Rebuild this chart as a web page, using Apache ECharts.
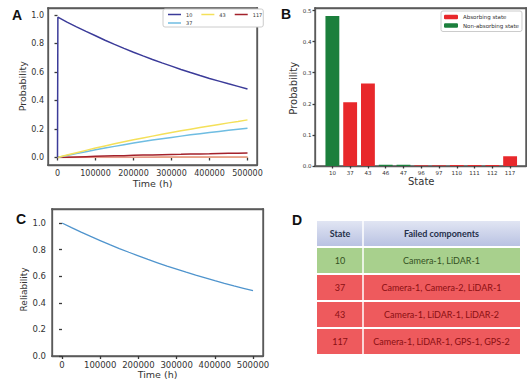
<!DOCTYPE html>
<html>
<head>
<meta charset="utf-8">
<script src="https://cdn.jsdelivr.net/npm/echarts@6/dist/echarts.min.js"></script>
<style>html,body{margin:0;padding:0;background:#fff;}#chart{width:527px;height:379px;}</style>
</head>
<body>
<div id="chart"></div>
<script>
// ---------- Panel A data (state probabilities vs time) ----------
const timeA = [0, 1000, 25000, 50000, 75000, 100000, 125000, 150000, 175000, 200000, 225000, 250000, 275000, 300000, 325000, 350000, 375000, 400000, 425000, 450000, 475000, 500000];
const p10  = [0, 0.985, 0.950, 0.917, 0.885, 0.854, 0.823, 0.794, 0.766, 0.739, 0.713, 0.688, 0.664, 0.641, 0.618, 0.596, 0.575, 0.555, 0.536, 0.517, 0.499, 0.481];
const p37  = [0, 0, 0.014, 0.028, 0.041, 0.054, 0.066, 0.078, 0.090, 0.101, 0.112, 0.122, 0.132, 0.141, 0.150, 0.159, 0.167, 0.175, 0.183, 0.191, 0.198, 0.205];
const p43  = [0, 0, 0.017, 0.034, 0.050, 0.066, 0.081, 0.096, 0.110, 0.124, 0.137, 0.150, 0.163, 0.175, 0.187, 0.199, 0.210, 0.221, 0.232, 0.243, 0.253, 0.264];
const p117 = [0, 0, 0.002, 0.004, 0.006, 0.008, 0.010, 0.012, 0.013, 0.015, 0.017, 0.018, 0.020, 0.021, 0.022, 0.024, 0.025, 0.026, 0.028, 0.029, 0.030, 0.032];
const p46  = [0, 0, 0.0003, 0.0006, 0.0009, 0.0012, 0.0014, 0.0016, 0.0019, 0.0021, 0.0023, 0.0025, 0.0027, 0.0029, 0.0031, 0.0033, 0.0034, 0.0036, 0.0037, 0.0039, 0.0040, 0.0041];
const p96  = [0, 0, 0.0001, 0.0002, 0.0003, 0.0004, 0.0005, 0.0006, 0.0007, 0.0008, 0.0009, 0.0010, 0.0011, 0.0012, 0.0013, 0.0014, 0.0015, 0.0016, 0.0017, 0.0018, 0.0019, 0.0020];

// ---------- Panel B data (final state probabilities) ----------
const statesB = ['10', '37', '43', '46', '47', '96', '97', '110', '111', '112', '117'];
const probB = [0.482, 0.205, 0.265, 0.004, 0.004, 0.002, 0.002, 0.003, 0.003, 0.003, 0.031];
const absorbingB = [false, true, true, false, false, true, true, true, true, true, true];

// ---------- Panel C data (reliability vs time) ----------
const timeC = [0, 25000, 50000, 75000, 100000, 125000, 150000, 175000, 200000, 225000, 250000, 275000, 300000, 325000, 350000, 375000, 400000, 425000, 450000, 475000, 500000];
const reliability = [1.000, 0.965, 0.931, 0.899, 0.868, 0.837, 0.808, 0.780, 0.753, 0.726, 0.701, 0.676, 0.653, 0.630, 0.608, 0.587, 0.566, 0.546, 0.527, 0.509, 0.491];

// ---------- Panel D table ----------
const tableHeader = ['State', 'Failed components'];
const tableStates = ['10', '37', '43', '117'];
const tableComponents = ['Camera-1, LiDAR-1', 'Camera-1, Camera-2, LiDAR-1', 'Camera-1, LiDAR-1, LiDAR-2', 'Camera-1, LiDAR-1, GPS-1, GPS-2'];
const tableAbsorbing = [false, true, true, true];

// ---------- layout ----------
const FA = {left: 48, top: 8, width: 209, height: 157};
const IA = {left: 57.5, top: 15, width: 190, height: 142.5};
const FB = {left: 315, top: 8, width: 211, height: 158};
const IB = {left: 323.5, top: 10.5, width: 195.5, height: 155.5};
const FC = {left: 52, top: 209, width: 211, height: 147};
const IC = {left: 62, top: 223, width: 191, height: 133};

const FONT = 'DejaVu Sans';
const SPINE = '#5a5a5a';
const TICK = '#3a3a3a';
const TXT = '#333';

function zip(xs, ys) { return xs.map((x, i) => [x, ys[i]]); }
const plain = v => String(v);
const oneDec = v => v.toFixed(1);

const chart = echarts.init(document.getElementById('chart'), null, {renderer: 'svg'});

function letter(t, x, y) {
  return {type: 'text', silent: true, x: x, y: y,
          style: {text: t, fill: '#111', font: 'bold 14px "Liberation Sans", Arial, sans-serif'}};
}
// frame as four thin filled bars, 1.4 px thick
function frameBars(f) {
  const t = 1.4;
  const x0 = f.left - t / 2, y0 = f.top - t / 2, w = f.width, h = f.height;
  const mk = (x, y, ww, hh) => ({type: 'rect', silent: true, shape: {x: x, y: y, width: ww, height: hh}, style: {fill: SPINE}});
  return [mk(x0, y0, w + t, t), mk(x0, y0 + h, w + t, t), mk(x0, y0, t, h + t), mk(x0 + w, y0, t, h + t)];
}

// table graphics
const tbl = [];
const tx0 = 317, tDiv = 363, tx1 = 520;
const headY = 221, headH = 25, rowY0 = 248, rowH = 25, rowStep = 27;
tbl.push({type: 'rect', silent: true, shape: {x: tx0, y: headY, width: tx1 - tx0, height: headH},
  style: {fill: new echarts.graphic.LinearGradient(0, 0, 0, 1, [{offset: 0, color: '#e1e5f3'}, {offset: 1, color: '#b9c2e2'}])}});
tbl.push({type: 'text', silent: true, style: {text: tableHeader[0], x: (tx0 + tDiv) / 2, y: headY + headH / 2, align: 'center', verticalAlign: 'middle', fill: '#25304a', font: 'bold 9px Lato, sans-serif'}});
tbl.push({type: 'text', silent: true, style: {text: tableHeader[1], x: (tDiv + tx1) / 2, y: headY + headH / 2, align: 'center', verticalAlign: 'middle', fill: '#25304a', font: 'bold 9px Lato, sans-serif'}});
tableStates.forEach((s, i) => {
  const y = rowY0 + i * rowStep;
  const abs = tableAbsorbing[i];
  tbl.push({type: 'rect', silent: true, shape: {x: tx0, y: y, width: tx1 - tx0, height: rowH},
    style: {fill: abs ? '#ee5a5d' : '#a8d08d'}});
  const tc = abs ? '#8a0f12' : '#33501f';
  tbl.push({type: 'text', silent: true, style: {text: s, x: (tx0 + tDiv) / 2, y: y + rowH / 2, align: 'center', verticalAlign: 'middle', fill: tc, font: '9px Lato, sans-serif'}});
  tbl.push({type: 'text', silent: true, style: {text: tableComponents[i], x: (tDiv + tx1) / 2, y: y + rowH / 2, align: 'center', verticalAlign: 'middle', fill: tc, font: '9px Lato, sans-serif'}});
});
tbl.push({type: 'rect', silent: true, shape: {x: tDiv - 0.75, y: headY, width: 1.5, height: rowY0 + 3 * rowStep + rowH - headY},
  style: {fill: '#ffffff'}});

const axisCommon = {
  axisLine: {show: false},
  axisTick: {show: true, length: 3, lineStyle: {color: TICK, width: 1.3}},
  splitLine: {show: false},
  nameLocation: 'middle'
};

function lineSeries(name, data, color, w) {
  return {type: 'line', name: name, xAxisIndex: 0, yAxisIndex: 0, data: zip(timeA, data),
          showSymbol: false, symbol: 'none', lineStyle: {color: color, width: w || 1.5}, itemStyle: {color: color}};
}
function grid(f) { return Object.assign({show: false, containLabel: false, outerBoundsMode: 'none'}, f); }

function spineAxis(gridIndex, position) {
  return {type: 'value', gridIndex: gridIndex, position: position, min: 0, max: 1,
          axisLine: {show: true, onZero: false, lineStyle: {color: SPINE, width: 1.3}},
          axisTick: {show: false}, axisLabel: {show: false}, splitLine: {show: false}, silent: true};
}

const option = {
  animation: false,
  backgroundColor: '#ffffff',
  textStyle: {fontFamily: FONT},
  grid: [grid(IA), grid(IB), grid(IC), grid(FA), grid(FB), grid(FC)],
  legend: [
    {data: ['10', '43', '117'], left: 163, top: 9, orient: 'horizontal', icon: 'rect',
     itemWidth: 13, itemHeight: 1.5, itemGap: 9, padding: [3, 1, 10, 5],
     borderColor: '#cccccc', borderWidth: 1, borderRadius: 2, backgroundColor: '#ffffff',
     textStyle: {fontSize: 5, color: TXT, fontFamily: FONT}, selectedMode: false},
    {data: ['37'], left: 168, top: 20.5, orient: 'horizontal', icon: 'rect', padding: 0,
     itemWidth: 13, itemHeight: 1.5, textStyle: {fontSize: 5, color: TXT, fontFamily: FONT}, selectedMode: false},
    {data: ['Absorbing state', 'Non-absorbing state'], left: 441, top: 11, orient: 'vertical',
     itemWidth: 14, itemHeight: 4.5, itemGap: 2.5, padding: [3, 3, 3, 3],
     borderColor: '#cccccc', borderWidth: 1, borderRadius: 2, backgroundColor: '#ffffff',
     textStyle: {fontSize: 5.5, color: TXT, fontFamily: FONT}, selectedMode: false}
  ],
  xAxis: [
    Object.assign({}, axisCommon, {type: 'value', gridIndex: 0, min: 0, max: 500000, interval: 100000,
      offset: (FA.top + FA.height) - (IA.top + IA.height),
      axisLabel: {fontSize: 8, color: TXT, margin: 4.5, fontFamily: FONT, formatter: plain},
      name: 'Time (h)', nameGap: 13, nameTextStyle: {fontSize: 9.5, color: TXT, fontFamily: FONT}}),
    Object.assign({}, axisCommon, {type: 'category', gridIndex: 1, data: statesB,
      axisTick: {show: true, alignWithLabel: true, length: 2.5, lineStyle: {color: TICK, width: 1.3}},
      axisLabel: {fontSize: 5.5, color: TXT, margin: 3.5, interval: 0, fontFamily: FONT},
      name: 'State', nameGap: 10.5, nameTextStyle: {fontSize: 10, color: TXT, fontFamily: FONT}}),
    Object.assign({}, axisCommon, {type: 'value', gridIndex: 2, min: 0, max: 500000, interval: 100000,
      offset: (FC.top + FC.height) - (IC.top + IC.height),
      axisLabel: {fontSize: 8.5, color: TXT, margin: 4, fontFamily: FONT, formatter: plain},
      name: 'Time (h)', nameGap: 10.5, nameTextStyle: {fontSize: 9.5, color: TXT, fontFamily: FONT}}),
    spineAxis(3, 'bottom'), spineAxis(3, 'top'),
    spineAxis(4, 'bottom'), spineAxis(4, 'top'),
    spineAxis(5, 'bottom'), spineAxis(5, 'top')
  ],
  yAxis: [
    Object.assign({}, axisCommon, {type: 'value', gridIndex: 0, min: 0, max: 1, interval: 0.2,
      offset: IA.left - FA.left,
      axisLabel: {fontSize: 8, color: TXT, margin: 4, fontFamily: FONT, formatter: oneDec},
      name: 'Probability', nameGap: 17.5, nameTextStyle: {fontSize: 9.5, color: TXT, fontFamily: FONT}}),
    Object.assign({}, axisCommon, {type: 'value', gridIndex: 1, min: 0, max: 0.5, interval: 0.1,
      offset: IB.left - FB.left,
      axisTick: {show: true, length: 2.5, lineStyle: {color: TICK, width: 1.3}},
      axisLabel: {fontSize: 5.5, color: TXT, margin: 3.5, fontFamily: FONT, formatter: oneDec},
      name: 'Probability', nameGap: 16.5, nameTextStyle: {fontSize: 10, color: TXT, fontFamily: FONT}}),
    Object.assign({}, axisCommon, {type: 'value', gridIndex: 2, min: 0, max: 1, interval: 0.2,
      offset: IC.left - FC.left,
      axisTick: {show: true, length: 3, lineStyle: {color: TICK, width: 1.3}},
      axisLabel: {fontSize: 8.5, color: TXT, margin: 6, fontFamily: FONT, formatter: oneDec},
      name: 'Reliability', nameGap: 20, nameTextStyle: {fontSize: 9, color: TXT, fontFamily: FONT}}),
    spineAxis(3, 'left'), spineAxis(3, 'right'),
    spineAxis(4, 'left'), spineAxis(4, 'right'),
    spineAxis(5, 'left'), spineAxis(5, 'right')
  ],
  series: [
    lineSeries('96', p96, '#f2bd7c', 1.5),
    lineSeries('46', p46, '#e59a8c', 1.5),
    lineSeries('117', p117, '#a3212b', 1.5),
    lineSeries('37', p37, '#6fbde2', 1.5),
    lineSeries('43', p43, '#f4e05a', 1.5),
    lineSeries('10', p10, '#3b3b99', 1.5),
    {type: 'bar', name: 'Absorbing state', xAxisIndex: 1, yAxisIndex: 1,
     data: probB.map((v, i) => absorbingB[i] ? v : null), barWidth: '78%', barGap: '-100%',
     itemStyle: {color: '#e8282b'}},
    {type: 'bar', name: 'Non-absorbing state', xAxisIndex: 1, yAxisIndex: 1,
     data: probB.map((v, i) => absorbingB[i] ? null : v), barWidth: '78%', barGap: '-100%',
     itemStyle: {color: '#1b7f3c'}},
    {type: 'line', name: 'Reliability', xAxisIndex: 2, yAxisIndex: 2, data: zip(timeC, reliability),
     showSymbol: false, symbol: 'none', lineStyle: {color: '#4f94cd', width: 1.3}}
  ],
  graphic: [
    letter('A', 12, 8), letter('B', 281, 7), letter('C', 16, 212), letter('D', 292, 213)
  ].concat(tbl, frameBars(FA), frameBars(FB), frameBars(FC))
};
chart.setOption(option);
</script>
</body>
</html>
